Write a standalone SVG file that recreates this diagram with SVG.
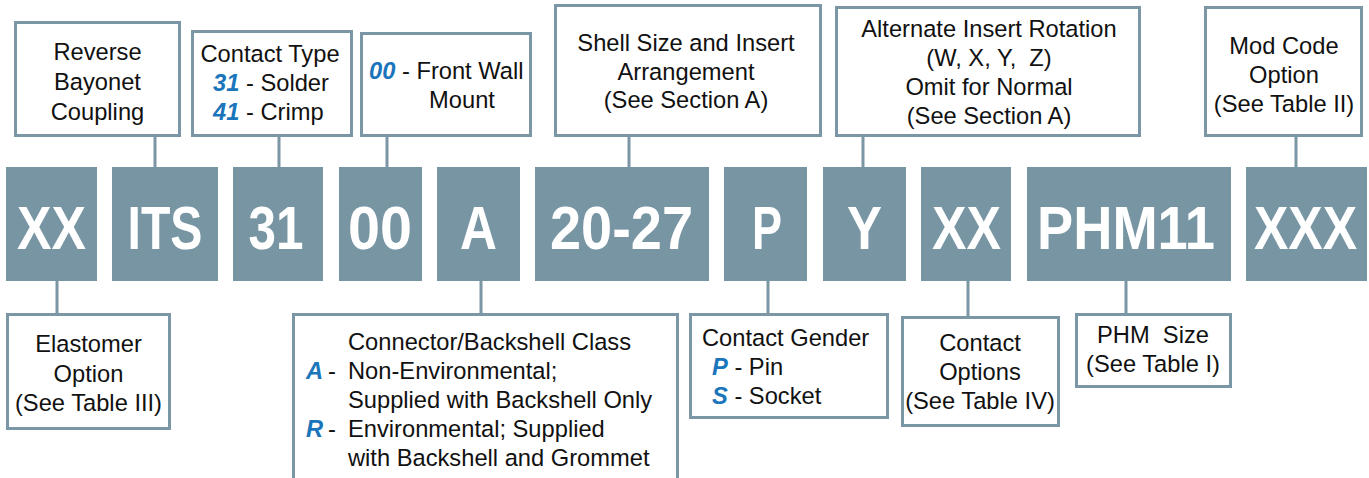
<svg xmlns="http://www.w3.org/2000/svg" width="1369" height="478" viewBox="0 0 1369 478">
<style>
.ob{fill:#fff;stroke:#7b97a5;stroke-width:3}
.cb{fill:#7895a3}
.ln{stroke:#7b97a5;stroke-width:3;fill:none}
.t{font-family:"Liberation Sans",Arial,sans-serif;font-size:23.7px;fill:#111}
.c{text-anchor:middle}
.b{font-family:"Liberation Sans",Arial,sans-serif;font-weight:bold;font-size:61px;fill:#fff;text-anchor:middle}
.hl{fill:#1b75bb;font-weight:bold;font-style:italic}
</style>
<rect width="1369" height="478" fill="#fff"/>
<g id="connectors">
<path class="ln" d="M155,137V167M279,137V167M387,137V167M629,137V167M863,137V167M1296,137V167"/>
<path class="ln" d="M57,281V313M481,281V313M768,281V313M968,281V316M1126,281V313"/>
</g>
<g id="code-XX"><rect class="cb" x="6" y="167" width="91" height="114"/><text class="b" x="51.5" y="249" textLength="69" lengthAdjust="spacingAndGlyphs">XX</text></g>
<g id="code-ITS"><rect class="cb" x="112" y="167" width="106" height="114"/><text class="b" x="165" y="249" textLength="75" lengthAdjust="spacingAndGlyphs">ITS</text></g>
<g id="code-31"><rect class="cb" x="233" y="167" width="90" height="114"/><text class="b" x="276" y="249" textLength="55" lengthAdjust="spacingAndGlyphs">31</text></g>
<g id="code-00"><rect class="cb" x="339" y="167" width="83" height="114"/><text class="b" x="380" y="249" textLength="64" lengthAdjust="spacingAndGlyphs">00</text></g>
<g id="code-A"><rect class="cb" x="437" y="167" width="83" height="114"/><text class="b" x="478.5" y="249" textLength="37" lengthAdjust="spacingAndGlyphs">A</text></g>
<g id="code-20-27"><rect class="cb" x="535" y="167" width="174" height="114"/><text class="b" x="621.5" y="249" textLength="143" lengthAdjust="spacingAndGlyphs">20-27</text></g>
<g id="code-P"><rect class="cb" x="724" y="167" width="83" height="114"/><text class="b" x="767" y="249" textLength="30" lengthAdjust="spacingAndGlyphs">P</text></g>
<g id="code-Y"><rect class="cb" x="823" y="167" width="83" height="114"/><text class="b" x="864.5" y="249" textLength="35" lengthAdjust="spacingAndGlyphs">Y</text></g>
<g id="code-XX2"><rect class="cb" x="921" y="167" width="90" height="114"/><text class="b" x="966.5" y="249" textLength="69" lengthAdjust="spacingAndGlyphs">XX</text></g>
<g id="code-PHM11"><rect class="cb" x="1027" y="167" width="204" height="114"/><text class="b" x="1126" y="249" textLength="178" lengthAdjust="spacingAndGlyphs">PHM11</text></g>
<g id="code-XXX"><rect class="cb" x="1246" y="167" width="121" height="114"/><text class="b" transform="translate(1305.5,249) scale(0.845,1)" x="0" y="0">XXX</text></g>

<g id="reverse-bayonet"><rect class="ob" x="15.5" y="22.5" width="164" height="113"/>
<text class="t c" x="97.5" y="60">Reverse</text><text class="t c" x="97.5" y="90">Bayonet</text><text class="t c" x="97.5" y="119.5">Coupling</text></g>
<g id="contact-type"><rect class="ob" x="192.5" y="31.5" width="159" height="104"/>
<text class="t c" x="270" y="62">Contact Type</text>
<text class="t" x="213" y="91"><tspan class="hl">31</tspan> - Solder</text>
<text class="t" x="213" y="120"><tspan class="hl">41</tspan> - Crimp</text></g>
<g id="front-wall"><rect class="ob" x="361.5" y="33.5" width="169" height="102"/>
<text class="t" x="369" y="79"><tspan class="hl">00</tspan> - Front Wall</text>
<text class="t c" x="462" y="108">Mount</text></g>
<g id="shell-size"><rect class="ob" x="555.5" y="5.5" width="265" height="130"/>
<text class="t c" x="686" y="51">Shell Size and Insert</text><text class="t c" x="686" y="80">Arrangement</text><text class="t c" x="686" y="108">(See Section A)</text></g>
<g id="alt-insert"><rect class="ob" x="836.5" y="7.5" width="303" height="128"/>
<text class="t c" x="989" y="37">Alternate Insert Rotation</text><text class="t c" x="989" y="66" xml:space="preserve">(W, X, Y,  Z)</text><text class="t c" x="989" y="95">Omit for Normal</text><text class="t c" x="989" y="124">(See Section A)</text></g>
<g id="mod-code"><rect class="ob" x="1205.5" y="7.5" width="156" height="128"/>
<text class="t c" x="1284" y="54">Mod Code</text><text class="t c" x="1284" y="83">Option</text><text class="t c" x="1284" y="112">(See Table II)</text></g>

<g id="elastomer"><rect class="ob" x="7.5" y="314.5" width="162" height="114"/>
<text class="t c" x="88.5" y="352">Elastomer</text><text class="t c" x="88.5" y="382">Option</text><text class="t c" x="88.5" y="411">(See Table III)</text></g>
<g id="backshell-class"><path class="ob" d="M293.5,478V314.5H677.5V478"/>
<text class="t" x="348" y="350">Connector/Backshell Class</text>
<text class="t" x="306" y="379"><tspan class="hl">A</tspan></text><text class="t" x="328" y="379">-</text><text class="t" x="348" y="379">Non-Environmental;</text>
<text class="t" x="348" y="408">Supplied with Backshell Only</text>
<text class="t" x="306" y="437"><tspan class="hl">R</tspan></text><text class="t" x="328" y="437">-</text><text class="t" x="348" y="437">Environmental; Supplied</text>
<text class="t" x="348" y="466">with Backshell and Grommet</text></g>
<g id="contact-gender"><rect class="ob" x="690.5" y="314.5" width="197" height="103"/>
<text class="t" x="702" y="346">Contact Gender</text>
<text class="t" x="712" y="375"><tspan class="hl">P</tspan> - Pin</text>
<text class="t" x="712" y="404"><tspan class="hl">S</tspan> - Socket</text></g>
<g id="contact-options"><rect class="ob" x="902.5" y="317.5" width="156" height="108"/>
<text class="t c" x="980" y="351">Contact</text><text class="t c" x="980" y="380">Options</text><text class="t c" x="980" y="409">(See Table IV)</text></g>
<g id="phm-size"><rect class="ob" x="1076.5" y="314.5" width="154" height="72"/>
<text class="t c" x="1153" y="343" xml:space="preserve">PHM  Size</text><text class="t c" x="1153" y="372">(See Table I)</text></g>
</svg>
